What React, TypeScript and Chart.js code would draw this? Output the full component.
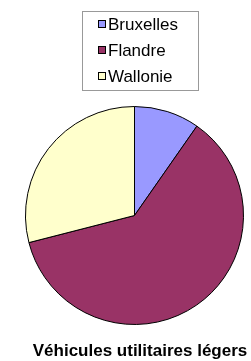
import React, { useEffect, useRef } from "react";
import { Chart, registerables } from "chart.js";

Chart.register(...registerables);

const categories = ["Bruxelles", "Flandre", "Wallonie"];
const values = [9.7, 61.3, 29.0];
const colors = ["#9999FF", "#993366", "#FFFFCC"];
const title = "Véhicules utilitaires légers";

const overlayPlugin = {
  id: "overlay",
  afterDraw(chart: any) {
    const ctx = chart.ctx;
    ctx.save();
    // legend box
    const bx = 82.5, by = 11.5, bw = 116, bh = 79;
    ctx.strokeStyle = "#999999";
    ctx.lineWidth = 1;
    ctx.strokeRect(bx, by, bw, bh);
    ctx.font = "17px 'Liberation Sans', Arial, sans-serif";
    ctx.textBaseline = "middle";
    ctx.textAlign = "left";
    categories.forEach((c, i) => {
      const cy = 25 + i * 26;
      ctx.fillStyle = colors[i];
      ctx.fillRect(98.5, cy - 4.5, 7, 7);
      ctx.strokeStyle = "#000";
      ctx.strokeRect(98.5, cy - 4.5, 7, 7);
      ctx.fillStyle = "#000";
      ctx.fillText(c, 108, cy + 0.5);
    });
    // title
    ctx.font = "bold 17px 'Liberation Sans', Arial, sans-serif";
    ctx.textAlign = "center";
    ctx.textBaseline = "alphabetic";
    ctx.fillText(title, 140, 356);
    ctx.restore();
  },
};

export default function App() {
  const ref = useRef<HTMLCanvasElement>(null);
  useEffect(() => {
    const chart = new Chart(ref.current!, {
      type: "pie",
      data: {
        labels: categories,
        datasets: [
          {
            data: values,
            backgroundColor: colors,
            borderColor: "#000",
            borderWidth: 1,
          },
        ],
      },
      options: {
        animation: false,
        responsive: false,
        maintainAspectRatio: false,
        layout: { padding: { left: 25, right: 7, top: 106, bottom: 36 } },
        plugins: {
          legend: { display: false },
          title: { display: false },
          tooltip: { enabled: false },
        },
      },
      plugins: [overlayPlugin],
    });
    return () => chart.destroy();
  }, []);
  return (
    <div style={{ position: "fixed", left: 0, top: 0, width: 251, height: 361, background: "#fff" }}>
      <canvas ref={ref} width={251} height={361} style={{ width: 251, height: 361 }} />
    </div>
  );
}
